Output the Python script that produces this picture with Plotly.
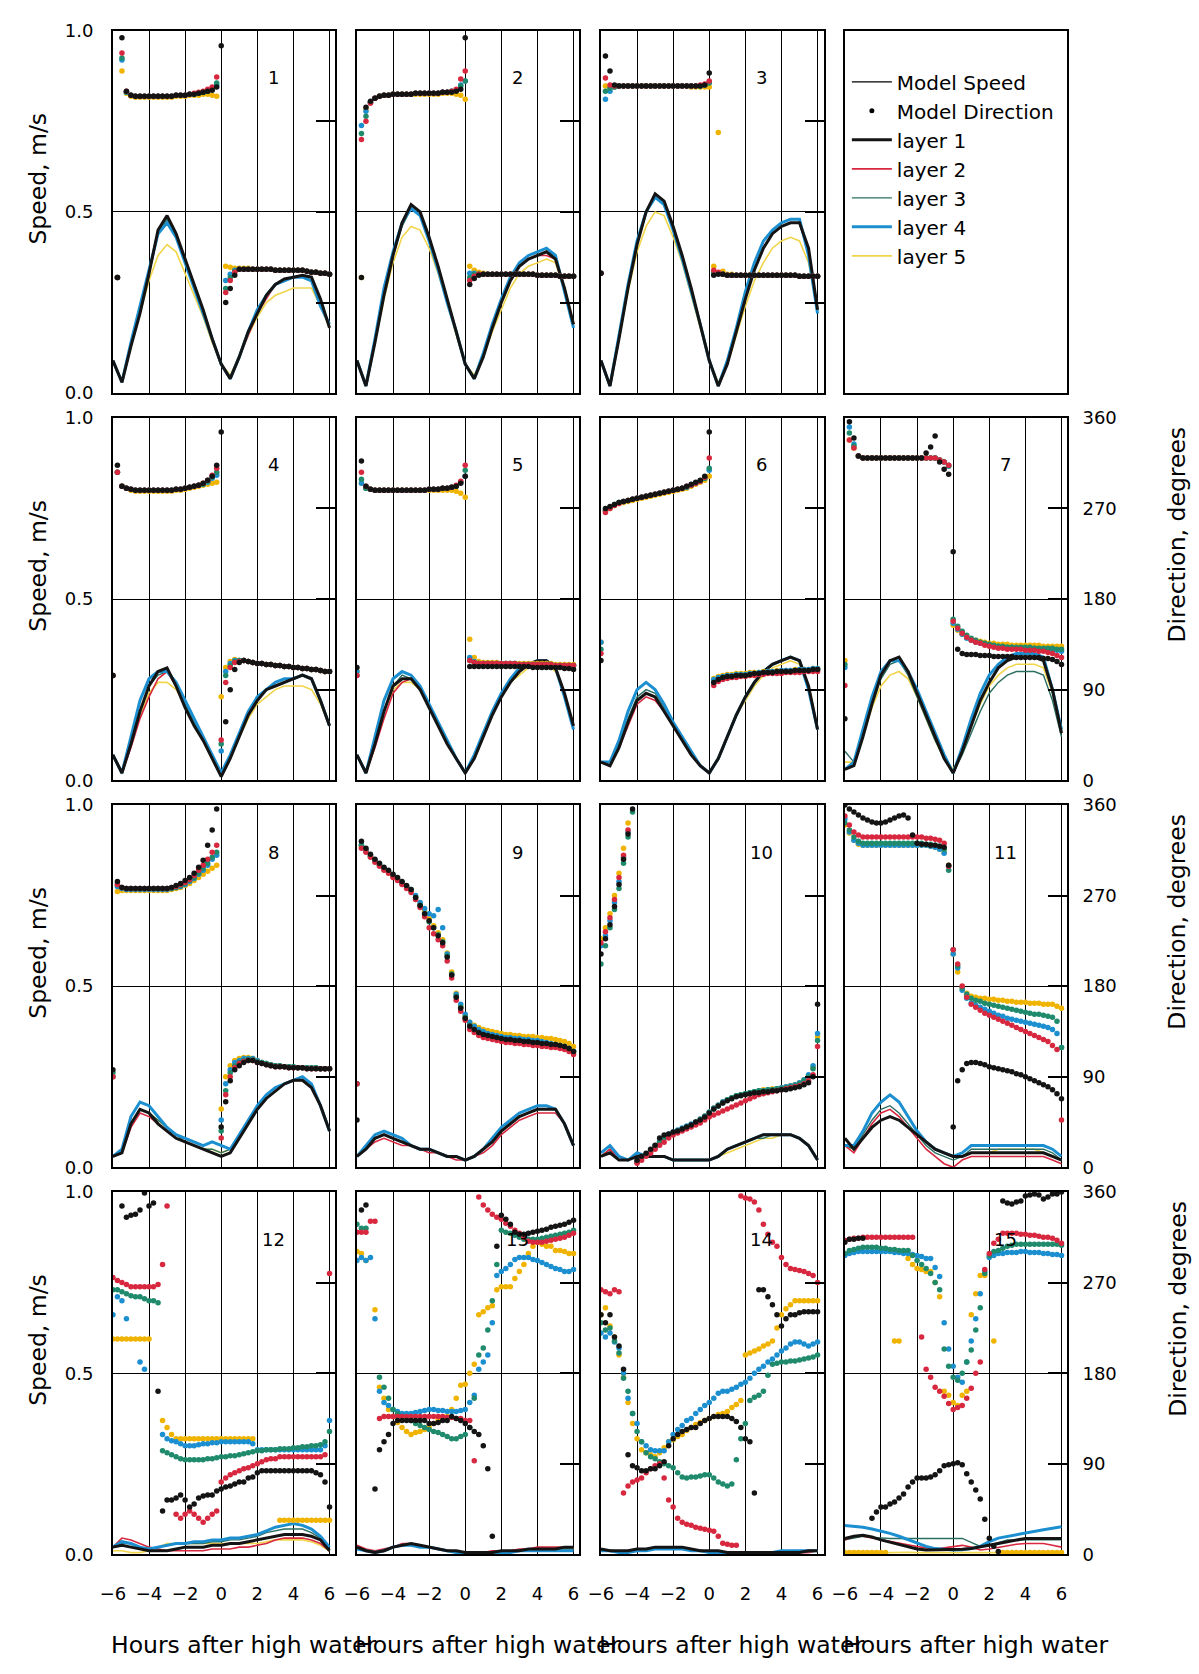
import plotly.graph_objects as go

FONT = "DejaVu Sans"

# ---- time axes (hours after high water) ----
HOURS_SPEED = [-6.0, -5.5, -5.0, -4.5, -4.0, -3.5, -3.0, -2.5, -2.0, -1.5, -1.0, -0.5, 0.0,
               0.5, 1.0, 1.5, 2.0, 2.5, 3.0, 3.5, 4.0, 4.5, 5.0, 5.5, 6.0]
HOURS_DIR = [-6.0, -5.75, -5.5, -5.25, -5.0, -4.75, -4.5, -4.25, -4.0, -3.75, -3.5, -3.25,
             -3.0, -2.75, -2.5, -2.25, -2.0, -1.75, -1.5, -1.25, -1.0, -0.75, -0.5, -0.25,
             0.0, 0.25, 0.5, 0.75, 1.0, 1.25, 1.5, 1.75, 2.0, 2.25, 2.5, 2.75, 3.0, 3.25,
             3.5, 3.75, 4.0, 4.25, 4.5, 4.75, 5.0, 5.25, 5.5, 5.75, 6.0]

HOUR_TICKS = [-6, -4, -2, 0, 2, 4, 6]
SPEED_TICKS = [0.0, 0.5, 1.0]
SPEED_TICK_TEXT = ["0.0", "0.5", "1.0"]
DIR_TICKS = [0, 90, 180, 270, 360]

LAYER_NAMES = ["layer 1", "layer 2", "layer 3", "layer 4", "layer 5"]
LINE_COLORS = ["#141414", "#d8283f", "#2b6f60", "#1c8fd0", "#f1d54a"]
DOT_COLORS = ["#141414", "#d8283f", "#1f8a6c", "#1c8fd0", "#f0b400"]
LINE_WIDTHS = [3.0, 1.6, 1.4, 3.0, 1.6]

# ---- speed (m/s), one row per layer ----
SPEED_01 = [
    [0.09,0.03,0.13,0.22,0.33, 0.45,0.49,0.44,0.37,0.30, 0.23,0.15,0.08,0.04,0.10, 0.17,0.22,0.27,0.30,0.315, 0.32,0.325,0.32,0.26,0.18],
    [0.09,0.03,0.13,0.22,0.33, 0.45,0.49,0.44,0.37,0.30, 0.23,0.15,0.08,0.04,0.10, 0.16,0.22,0.26,0.30,0.31, 0.32,0.32,0.31,0.25,0.18],
    [0.09,0.03,0.13,0.23,0.33, 0.44,0.48,0.43,0.36,0.30, 0.23,0.15,0.08,0.04,0.10, 0.17,0.22,0.27,0.30,0.31, 0.32,0.32,0.31,0.25,0.19],
    [0.09,0.03,0.14,0.24,0.34, 0.44,0.47,0.43,0.36,0.29, 0.22,0.15,0.08,0.04,0.10, 0.17,0.23,0.27,0.30,0.31, 0.32,0.32,0.31,0.24,0.19],
    [0.09,0.03,0.13,0.22,0.31, 0.38,0.41,0.39,0.33,0.27, 0.21,0.14,0.08,0.05,0.10, 0.16,0.21,0.25,0.27,0.28, 0.29,0.29,0.29,0.24,0.18],
]
SPEED_02 = [
    [0.09,0.02,0.14,0.27,0.38, 0.47,0.52,0.50,0.43,0.35, 0.26,0.17,0.08,0.04,0.10, 0.18,0.25,0.31,0.35,0.37, 0.38,0.39,0.37,0.29,0.19],
    [0.09,0.02,0.14,0.27,0.38, 0.47,0.52,0.50,0.43,0.35, 0.26,0.17,0.08,0.04,0.10, 0.18,0.25,0.31,0.35,0.37, 0.38,0.38,0.37,0.29,0.19],
    [0.09,0.02,0.14,0.27,0.38, 0.46,0.51,0.49,0.42,0.34, 0.26,0.17,0.08,0.04,0.10, 0.18,0.25,0.31,0.35,0.37, 0.38,0.39,0.38,0.29,0.19],
    [0.09,0.02,0.15,0.29,0.39, 0.47,0.51,0.49,0.42,0.34, 0.25,0.17,0.08,0.04,0.11, 0.19,0.26,0.32,0.36,0.38, 0.39,0.40,0.38,0.28,0.18],
    [0.09,0.02,0.14,0.26,0.36, 0.43,0.46,0.45,0.40,0.33, 0.25,0.16,0.08,0.05,0.10, 0.17,0.23,0.29,0.33,0.35, 0.36,0.37,0.36,0.28,0.19],
]
SPEED_03 = [
    [0.09,0.02,0.15,0.29,0.41, 0.50,0.55,0.53,0.46,0.38, 0.29,0.19,0.09,0.02,0.08, 0.17,0.26,0.34,0.40,0.44, 0.46,0.47,0.47,0.40,0.23],
    [0.09,0.02,0.15,0.29,0.41, 0.50,0.55,0.53,0.46,0.38, 0.29,0.19,0.09,0.02,0.08, 0.17,0.26,0.34,0.40,0.44, 0.46,0.47,0.47,0.39,0.23],
    [0.09,0.02,0.15,0.29,0.41, 0.50,0.54,0.52,0.45,0.37, 0.28,0.19,0.09,0.02,0.08, 0.17,0.26,0.34,0.40,0.44, 0.46,0.47,0.47,0.39,0.23],
    [0.09,0.02,0.16,0.30,0.42, 0.50,0.54,0.52,0.45,0.37, 0.28,0.19,0.09,0.02,0.09, 0.18,0.28,0.36,0.42,0.45, 0.47,0.48,0.48,0.38,0.22],
    [0.09,0.02,0.15,0.28,0.39, 0.46,0.50,0.49,0.43,0.36, 0.27,0.18,0.09,0.03,0.08, 0.16,0.24,0.31,0.36,0.40, 0.42,0.43,0.42,0.36,0.23],
]
SPEED_04 = [
    [0.07,0.02,0.10,0.19,0.26, 0.30,0.31,0.26,0.20,0.15, 0.11,0.06,0.01,0.06,0.12, 0.18,0.22,0.25,0.26,0.27, 0.28,0.29,0.28,0.22,0.15],
    [0.07,0.02,0.09,0.17,0.23, 0.28,0.30,0.26,0.20,0.15, 0.11,0.06,0.01,0.06,0.12, 0.18,0.22,0.25,0.26,0.27, 0.28,0.29,0.28,0.22,0.15],
    [0.07,0.02,0.10,0.19,0.26, 0.29,0.30,0.26,0.21,0.16, 0.11,0.06,0.02,0.07,0.13, 0.18,0.22,0.25,0.26,0.27, 0.28,0.29,0.28,0.22,0.15],
    [0.07,0.02,0.12,0.22,0.28, 0.30,0.30,0.27,0.22,0.17, 0.12,0.07,0.02,0.07,0.13, 0.19,0.23,0.25,0.27,0.28, 0.28,0.29,0.28,0.22,0.15],
    [0.07,0.02,0.10,0.18,0.24, 0.27,0.27,0.25,0.21,0.16, 0.11,0.06,0.02,0.07,0.12, 0.17,0.21,0.23,0.25,0.26, 0.26,0.26,0.25,0.21,0.15],
]
SPEED_05 = [
    [0.07,0.02,0.10,0.19,0.26, 0.28,0.28,0.25,0.20,0.15, 0.10,0.06,0.02,0.06,0.12, 0.18,0.23,0.27,0.30,0.32, 0.33,0.33,0.31,0.24,0.15],
    [0.07,0.02,0.09,0.17,0.24, 0.27,0.28,0.25,0.20,0.15, 0.10,0.06,0.02,0.06,0.12, 0.18,0.23,0.27,0.30,0.32, 0.33,0.33,0.31,0.24,0.15],
    [0.07,0.02,0.10,0.19,0.26, 0.29,0.28,0.25,0.20,0.15, 0.10,0.06,0.02,0.06,0.12, 0.18,0.23,0.27,0.30,0.32, 0.33,0.33,0.31,0.24,0.15],
    [0.07,0.02,0.12,0.22,0.28, 0.30,0.29,0.26,0.21,0.16, 0.11,0.06,0.02,0.07,0.13, 0.19,0.24,0.28,0.31,0.32, 0.33,0.33,0.31,0.23,0.14],
    [0.07,0.02,0.10,0.19,0.25, 0.27,0.27,0.25,0.20,0.15, 0.10,0.06,0.02,0.06,0.12, 0.18,0.23,0.27,0.29,0.31, 0.32,0.32,0.30,0.24,0.15],
]
SPEED_06 = [
    [0.05,0.04,0.09,0.16,0.22, 0.24,0.23,0.19,0.15,0.11, 0.07,0.04,0.02,0.06,0.12, 0.18,0.23,0.27,0.30,0.32, 0.33,0.34,0.33,0.26,0.14],
    [0.05,0.04,0.09,0.15,0.21, 0.23,0.22,0.19,0.15,0.11, 0.07,0.04,0.02,0.06,0.12, 0.18,0.23,0.27,0.30,0.32, 0.33,0.34,0.33,0.26,0.14],
    [0.05,0.04,0.10,0.17,0.23, 0.25,0.24,0.20,0.16,0.11, 0.07,0.04,0.02,0.06,0.12, 0.18,0.23,0.27,0.30,0.32, 0.33,0.34,0.33,0.26,0.14],
    [0.05,0.05,0.11,0.19,0.25, 0.27,0.25,0.21,0.16,0.12, 0.08,0.04,0.02,0.06,0.12, 0.18,0.23,0.27,0.30,0.32, 0.33,0.34,0.33,0.25,0.14],
    [0.05,0.04,0.09,0.16,0.22, 0.24,0.23,0.19,0.15,0.11, 0.07,0.04,0.02,0.06,0.12, 0.18,0.22,0.26,0.29,0.31, 0.32,0.33,0.32,0.26,0.14],
]
SPEED_07 = [
    [0.03,0.04,0.12,0.21,0.29, 0.33,0.34,0.30,0.24,0.18, 0.12,0.06,0.02,0.08,0.15, 0.22,0.27,0.31,0.33,0.34, 0.34,0.34,0.33,0.25,0.13],
    [0.03,0.04,0.12,0.21,0.29, 0.33,0.34,0.30,0.24,0.18, 0.12,0.06,0.02,0.08,0.15, 0.22,0.27,0.31,0.33,0.34, 0.34,0.34,0.33,0.25,0.13],
    [0.08,0.05,0.12,0.21,0.28, 0.32,0.33,0.29,0.23,0.17, 0.11,0.06,0.02,0.07,0.13, 0.19,0.24,0.27,0.29,0.30, 0.30,0.30,0.29,0.22,0.12],
    [0.03,0.05,0.14,0.23,0.30, 0.33,0.33,0.30,0.25,0.19, 0.13,0.07,0.02,0.09,0.17, 0.24,0.29,0.32,0.34,0.35, 0.35,0.35,0.34,0.25,0.14],
    [0.05,0.05,0.12,0.20,0.26, 0.29,0.30,0.28,0.23,0.17, 0.11,0.06,0.03,0.08,0.15, 0.21,0.26,0.29,0.31,0.32, 0.32,0.32,0.31,0.24,0.13],
]
SPEED_08 = [
    [0.03,0.04,0.12,0.16,0.15, 0.12,0.10,0.08,0.07,0.06, 0.05,0.04,0.03,0.04,0.08, 0.12,0.16,0.19,0.21,0.23, 0.24,0.24,0.22,0.17,0.10],
    [0.03,0.04,0.11,0.15,0.14, 0.12,0.10,0.08,0.07,0.06, 0.05,0.04,0.03,0.04,0.08, 0.12,0.16,0.19,0.21,0.23, 0.24,0.24,0.22,0.17,0.10],
    [0.03,0.04,0.12,0.16,0.15, 0.13,0.11,0.09,0.07,0.06, 0.05,0.05,0.04,0.05,0.09, 0.13,0.16,0.19,0.21,0.23, 0.24,0.24,0.22,0.17,0.10],
    [0.03,0.05,0.14,0.18,0.17, 0.14,0.11,0.09,0.08,0.07, 0.06,0.07,0.06,0.05,0.09, 0.13,0.17,0.20,0.22,0.23, 0.24,0.25,0.23,0.17,0.10],
    [0.03,0.04,0.12,0.16,0.15, 0.13,0.11,0.09,0.07,0.06, 0.05,0.05,0.04,0.05,0.09, 0.13,0.16,0.19,0.21,0.23, 0.24,0.24,0.22,0.17,0.10],
]
SPEED_09 = [
    [0.03,0.05,0.08,0.09,0.08, 0.07,0.06,0.05,0.05,0.04, 0.03,0.03,0.02,0.03,0.05, 0.07,0.10,0.12,0.14,0.15, 0.16,0.16,0.16,0.12,0.06],
    [0.03,0.05,0.07,0.08,0.07, 0.06,0.06,0.05,0.04,0.04, 0.03,0.02,0.02,0.03,0.04, 0.06,0.09,0.11,0.13,0.14, 0.15,0.15,0.15,0.12,0.06],
    [0.03,0.05,0.08,0.09,0.08, 0.07,0.06,0.05,0.05,0.04, 0.03,0.03,0.02,0.03,0.05, 0.07,0.10,0.12,0.14,0.15, 0.16,0.16,0.16,0.12,0.06],
    [0.03,0.06,0.09,0.10,0.09, 0.08,0.06,0.05,0.05,0.04, 0.03,0.03,0.02,0.03,0.05, 0.08,0.11,0.13,0.15,0.16, 0.17,0.17,0.16,0.12,0.06],
    [0.03,0.05,0.08,0.09,0.08, 0.07,0.06,0.05,0.05,0.04, 0.03,0.03,0.02,0.03,0.05, 0.07,0.10,0.12,0.14,0.15, 0.16,0.16,0.16,0.12,0.06],
]
SPEED_10 = [
    [0.03,0.04,0.02,0.02,0.03, 0.03,0.03,0.03,0.02,0.02, 0.02,0.02,0.02,0.03,0.05, 0.06,0.07,0.08,0.09,0.09, 0.09,0.09,0.08,0.06,0.02],
    [0.03,0.05,0.02,0.02,0.03, 0.03,0.03,0.03,0.02,0.02, 0.02,0.02,0.02,0.03,0.05, 0.06,0.07,0.08,0.09,0.09, 0.09,0.09,0.08,0.06,0.02],
    [0.03,0.05,0.02,0.02,0.03, 0.03,0.03,0.03,0.02,0.02, 0.02,0.02,0.02,0.03,0.05, 0.06,0.07,0.08,0.08,0.09, 0.09,0.09,0.08,0.06,0.02],
    [0.04,0.06,0.03,0.02,0.04, 0.03,0.03,0.03,0.02,0.02, 0.02,0.02,0.02,0.03,0.05, 0.06,0.07,0.08,0.09,0.09, 0.09,0.09,0.08,0.06,0.02],
    [0.04,0.06,0.03,0.02,0.04, 0.03,0.03,0.03,0.02,0.02, 0.02,0.02,0.02,0.03,0.04, 0.05,0.06,0.07,0.08,0.08, 0.09,0.09,0.08,0.06,0.02],
]
SPEED_11 = [
    [0.08,0.05,0.08,0.11,0.13, 0.14,0.13,0.11,0.09,0.07, 0.05,0.04,0.03,0.03,0.04, 0.04,0.04,0.04,0.04,0.04, 0.04,0.04,0.04,0.03,0.02],
    [0.06,0.04,0.08,0.12,0.15, 0.16,0.14,0.11,0.08,0.05, 0.03,0.01,0.00,0.02,0.03, 0.03,0.03,0.03,0.03,0.03, 0.03,0.03,0.03,0.02,0.01],
    [0.06,0.05,0.09,0.13,0.16, 0.17,0.15,0.12,0.09,0.06, 0.04,0.03,0.02,0.03,0.05, 0.05,0.05,0.05,0.05,0.05, 0.05,0.05,0.05,0.04,0.02],
    [0.06,0.06,0.10,0.15,0.18, 0.20,0.18,0.14,0.10,0.07, 0.05,0.04,0.03,0.04,0.06, 0.06,0.06,0.06,0.06,0.06, 0.06,0.06,0.06,0.05,0.03],
    [0.06,0.05,0.08,0.11,0.13, 0.14,0.13,0.11,0.09,0.07, 0.05,0.04,0.03,0.03,0.04, 0.04,0.04,0.05,0.05,0.05, 0.05,0.05,0.04,0.03,0.02],
]
SPEED_12 = [
    [0.02,0.025,0.02,0.015,0.01, 0.01,0.01,0.015,0.02,0.02, 0.02,0.025,0.025,0.03,0.03, 0.035,0.04,0.045,0.05,0.055, 0.055,0.055,0.05,0.04,0.01],
    [0.02,0.045,0.04,0.03,0.02, 0.015,0.01,0.01,0.01,0.01, 0.01,0.015,0.015,0.015,0.02, 0.02,0.025,0.03,0.04,0.045, 0.045,0.045,0.04,0.03,0.01],
    [0.02,0.03,0.03,0.02,0.015, 0.02,0.025,0.03,0.03,0.03, 0.03,0.035,0.035,0.04,0.04, 0.045,0.05,0.06,0.065,0.07, 0.07,0.07,0.06,0.045,0.01],
    [0.02,0.035,0.03,0.02,0.015, 0.02,0.025,0.03,0.03,0.035, 0.035,0.04,0.04,0.045,0.045, 0.05,0.055,0.065,0.075,0.08, 0.085,0.08,0.07,0.05,0.02],
    [0.01,0.01,0.005,0.005,0.01, 0.02,0.03,0.03,0.03,0.03, 0.03,0.03,0.03,0.03,0.03, 0.03,0.03,0.035,0.04,0.04, 0.04,0.04,0.035,0.025,0.01],
]
SPEED_13 = [
    [0.02,0.01,0.005,0.01,0.02, 0.025,0.03,0.025,0.02,0.015, 0.01,0.01,0.005,0.005,0.005, 0.005,0.01,0.01,0.01,0.015, 0.015,0.015,0.015,0.02,0.02],
    [0.025,0.015,0.01,0.015,0.02, 0.03,0.03,0.025,0.02,0.015, 0.01,0.01,0.005,0.005,0.005, 0.01,0.01,0.01,0.015,0.015, 0.02,0.02,0.02,0.02,0.02],
    [0.02,0.01,0.005,0.01,0.02, 0.025,0.03,0.025,0.02,0.015, 0.01,0.01,0.005,0.005,0.005, 0.005,0.01,0.01,0.01,0.01, 0.01,0.015,0.015,0.015,0.015],
    [0.015,0.01,0.005,0.01,0.02, 0.025,0.025,0.02,0.02,0.015, 0.01,0.005,0.005,0.005,0.005, 0.005,0.005,0.005,0.01,0.01, 0.01,0.01,0.01,0.01,0.01],
    [0.02,0.01,0.005,0.01,0.02, 0.025,0.03,0.025,0.02,0.015, 0.01,0.01,0.005,0.005,0.005, 0.005,0.01,0.01,0.01,0.01, 0.01,0.015,0.015,0.015,0.015],
]
SPEED_14 = [
    [0.015,0.01,0.01,0.01,0.015, 0.015,0.02,0.02,0.02,0.02, 0.015,0.01,0.01,0.01,0.005, 0.005,0.005,0.005,0.005,0.005, 0.005,0.005,0.005,0.01,0.01],
    [0.015,0.01,0.01,0.01,0.015, 0.015,0.015,0.02,0.02,0.015, 0.015,0.01,0.01,0.005,0.005, 0.005,0.005,0.005,0.005,0.005, 0.005,0.005,0.005,0.005,0.01],
    [0.015,0.01,0.01,0.01,0.015, 0.015,0.02,0.02,0.02,0.02, 0.015,0.01,0.01,0.01,0.005, 0.005,0.005,0.005,0.005,0.005, 0.005,0.005,0.005,0.01,0.01],
    [0.01,0.01,0.005,0.005,0.01, 0.01,0.015,0.015,0.015,0.015, 0.01,0.01,0.005,0.005,0.005, 0.005,0.005,0.005,0.005,0.005, 0.01,0.01,0.01,0.01,0.01],
    [0.01,0.01,0.005,0.005,0.01, 0.01,0.015,0.015,0.015,0.015, 0.01,0.01,0.005,0.005,0.005, 0.005,0.005,0.005,0.005,0.005, 0.01,0.01,0.01,0.01,0.01],
]
SPEED_15 = [
    [0.044,0.05,0.053,0.048,0.04, 0.034,0.027,0.02,0.015,0.012, 0.012,0.012,0.012,0.014,0.016, 0.02,0.025,0.03,0.035,0.04, 0.044,0.044,0.044,0.044,0.044],
    [0.04,0.05,0.05,0.045,0.04, 0.035,0.03,0.026,0.022,0.018, 0.015,0.018,0.022,0.025,0.02, 0.012,0.015,0.02,0.025,0.028, 0.03,0.03,0.03,0.025,0.02],
    [0.04,0.045,0.05,0.047,0.045, 0.044,0.044,0.044,0.044,0.044, 0.044,0.044,0.044,0.044,0.033, 0.022,0.025,0.033,0.04,0.04, 0.04,0.04,0.04,0.04,0.04],
    [0.08,0.078,0.075,0.07,0.065, 0.058,0.05,0.04,0.03,0.022, 0.016,0.013,0.012,0.013,0.016, 0.022,0.035,0.045,0.05,0.055, 0.06,0.064,0.068,0.072,0.076],
    [0.006,0.005,0.005,0.004,0.004, 0.005,0.006,0.006,0.005,0.005, 0.004,0.004,0.005,0.005,0.006, 0.006,0.005,0.005,0.004,0.004, 0.005,0.005,0.006,0.006,0.005],
]

# ---- direction (degrees), one row per layer ----
DIR_01 = [
    [None,115,353,300, 296,295,295,295, 295,295,295,295, 295,295,296,296, 296,297,297,298, 299,300,301,304, 345,90,104,117, 123,123,123,123, 123,123,123,123, 122,122,122,122, 122,122,122,121, 120,120,119,119, 118],
    [None,115,338,300, 296,295,295,295, 295,295,295,295, 295,295,296,296, 296,297,298,299, 300,302,304,314, None,100,112,120, 123,123,123,123, 123,123,123,123, 122,122,122,122, 122,122,122,121, 120,120,119,119, 118],
    [None,115,333,299, 296,295,295,295, 295,295,295,295, 295,295,296,296, 296,297,297,298, 299,300,302,308, None,104,115,121, 123,123,123,123, 123,123,123,123, 122,122,122,122, 122,122,122,121, 120,120,119,119, 118],
    [None,115,331,299, 296,295,295,295, 295,295,295,295, 295,295,296,296, 296,297,297,298, 299,300,302,306, None,112,118,122, 123,123,123,123, 123,123,123,123, 122,122,122,122, 122,122,122,121, 120,120,119,119, 118],
    [None,115,320,298, 295,294,294,294, 294,294,294,294, 294,294,295,295, 295,296,296,296, 297,297,296,295, None,126,125,124, 124,124,124,123, 123,123,123,123, 122,122,122,122, 122,122,122,121, 120,120,119,119, 118],
]
DIR_02 = [
    [None,115,284,290, 293,295,296,296, 297,297,297,297, 297,298,298,298, 298,298,298,299, 299,299,300,302, 353,108,114,117, 118,118,118,118, 118,118,118,118, 118,118,118,118, 117,117,117,117, 117,116,116,116, 116],
    [None,252,270,288, 293,295,296,296, 297,297,297,297, 297,298,298,298, 298,298,298,299, 299,300,302,312, 320,112,116,118, 118,118,118,118, 118,118,118,118, 118,118,118,118, 117,117,117,117, 117,116,116,116, 116],
    [None,258,275,289, 293,295,296,296, 297,297,297,297, 297,298,298,298, 298,298,298,299, 299,300,301,305, 310,115,118,118, 118,118,118,118, 118,118,118,118, 118,118,118,118, 117,117,117,117, 117,116,116,116, 116],
    [None,266,280,289, 293,295,296,296, 297,297,297,297, 297,298,298,298, 298,298,298,299, 299,300,301,306, 310,119,119,118, 118,118,118,118, 118,118,118,118, 118,118,118,118, 117,117,117,117, 117,116,116,116, 116],
    [None,115,282,289, 293,295,296,296, 297,297,297,297, 297,297,297,297, 297,297,297,298, 298,298,297,296, 292,126,122,120, 119,118,118,118, 118,118,118,118, 118,118,118,118, 117,117,117,117, 117,116,116,116, 116],
]
DIR_03 = [
    [119,335,320,306, 305,305,305,305, 305,305,305,305, 305,305,305,305, 305,305,305,305, 305,305,305,306, 318,117,118,118, 117,117,117,117, 117,117,117,117, 117,117,117,117, 117,117,117,117, 116,116,116,116, 116],
    [119,313,306,305, 305,305,305,305, 305,305,305,305, 305,305,305,305, 305,305,305,305, 305,305,306,307, 310,122,120,118, 117,117,117,117, 117,117,117,117, 117,117,117,117, 117,117,117,117, 116,116,116,116, 116],
    [119,300,303,304, 305,305,305,305, 305,305,305,305, 305,305,305,305, 305,305,305,305, 305,305,305,306, 308,120,119,118, 117,117,117,117, 117,117,117,117, 117,117,117,117, 117,117,117,117, 116,116,116,116, 116],
    [119,292,300,304, 305,305,305,305, 305,305,305,305, 305,305,305,305, 305,305,305,305, 305,305,305,306, 309,119,119,118, 117,117,117,117, 117,117,117,117, 117,117,117,117, 117,117,117,117, 116,116,116,116, 116],
    [119,305,304,304, 305,305,305,305, 305,305,305,305, 305,305,305,305, 305,305,305,305, 304,304,304,304, 304,126,259,121, 118,118,117,117, 117,117,117,117, 117,117,117,117, 117,117,117,117, 116,116,116,116, 116],
]
DIR_04 = [
    [104,313,292,290, 289,288,288,288, 288,288,288,288, 288,288,289,289, 290,291,292,293, 295,298,302,313, 346,58,90,110, 117,119,118,117, 116,116,115,115, 114,114,113,113, 112,112,111,111, 110,110,109,108, 108],
    [104,306,292,290, 289,288,288,288, 288,288,288,288, 288,288,289,289, 290,291,292,293, 295,298,303,310, 40,97,112,117, 118,119,118,117, 116,116,115,115, 114,114,113,113, 112,112,111,111, 110,110,109,108, 108],
    [104,306,292,290, 289,288,288,288, 288,288,288,288, 288,288,289,289, 290,291,292,293, 294,297,301,306, 36,104,114,118, 119,119,118,117, 116,116,115,115, 114,114,113,113, 112,112,111,111, 110,110,109,108, 108],
    [104,306,292,290, 289,288,288,288, 288,288,288,288, 288,288,289,289, 290,291,292,293, 294,296,300,303, 29,108,116,119, 119,119,118,117, 116,116,115,115, 114,114,113,113, 112,112,111,111, 110,110,109,108, 108],
    [104,306,292,290, 288,287,287,287, 287,287,287,287, 287,287,288,288, 289,290,291,292, 293,294,295,296, 83,112,118,120, 119,119,118,117, 116,116,115,115, 114,114,113,113, 112,112,111,111, 110,110,109,108, 108],
]
DIR_05 = [
    [112,317,292,289, 288,288,288,288, 288,288,288,288, 288,288,288,288, 289,289,289,290, 290,291,292,295, 302,113,113,113, 113,113,113,113, 113,113,113,113, 113,113,113,112, 112,112,112,112, 112,112,111,111, 110],
    [104,306,292,289, 288,288,288,288, 288,288,288,288, 288,288,288,288, 289,289,289,290, 290,291,293,297, 313,119,117,116, 116,116,116,116, 116,116,116,116, 115,115,115,115, 115,115,115,115, 114,114,114,114, 114],
    [104,299,290,289, 288,288,288,288, 288,288,288,288, 288,288,288,288, 289,289,289,290, 290,291,292,296, 308,119,117,116, 116,116,116,116, 116,116,116,116, 115,115,115,115, 115,115,115,115, 114,114,114,114, 114],
    [108,295,290,289, 288,288,288,288, 288,288,288,288, 288,288,288,288, 289,289,289,290, 290,291,292,296, 302,122,118,116, 116,116,116,116, 116,116,116,116, 115,115,115,115, 115,115,115,115, 114,114,114,114, 114],
    [108,295,290,289, 288,288,288,288, 288,288,288,288, 288,288,288,288, 288,288,288,288, 288,288,287,285, 281,140,122,118, 117,117,117,117, 116,116,116,116, 116,116,116,116, 116,116,116,116, 115,115,115,115, 115],
]
DIR_06 = [
    [119,270,272,274, 276,277,278,279, 280,281,282,283, 284,285,286,287, 288,289,290,292, 294,296,298,302, 346,97,100,102, 103,103,104,104, 104,105,106,106, 107,107,107,108, 108,108,108,109, 109,109,109,110, 110],
    [126,266,270,273, 275,277,278,279, 280,281,282,283, 284,285,286,287, 288,289,290,292, 293,295,297,301, 320,94,98,100, 101,102,102,103, 103,104,104,105, 105,106,106,106, 106,107,107,107, 107,108,108,108, 108],
    [130,268,271,274, 276,277,278,279, 280,281,282,283, 284,285,286,287, 288,289,290,291, 293,295,297,300, 310,97,100,102, 103,103,104,104, 104,105,106,106, 107,107,107,108, 108,108,108,109, 109,109,109,110, 110],
    [137,268,271,274, 276,277,278,279, 280,281,282,283, 284,285,286,287, 288,289,290,291, 293,295,297,300, 308,100,102,103, 104,104,105,105, 105,106,106,107, 107,108,108,108, 109,109,109,109, 110,110,110,111, 111],
    [137,268,270,273, 275,276,277,278, 279,280,281,282, 283,284,285,286, 287,288,289,290, 292,294,296,298, 302,101,103,104, 105,105,106,106, 106,107,107,107, 108,108,108,109, 109,109,109,110, 110,110,110,111, 111],
]
DIR_07 = [
    [61,356,340,322, 320,320,320,320, 320,320,320,320, 320,320,320,320, 320,320,325,331, 342,316,309,304, 227,130,126,125, 125,125,124,124, 124,123,123,123, 123,123,122,122, 122,122,122,122, 121,121,120,118, 115],
    [94,338,330,322, 320,320,320,320, 320,320,320,320, 320,320,320,320, 320,320,320,320, 320,318,316,313, 158,151,146,142, 139,137,136,134, 133,132,131,131, 130,130,130,130, 129,129,129,128, 128,127,126,124, 122],
    [115,345,332,322, 320,320,320,320, 320,320,320,320, 320,320,320,320, 320,320,320,320, 320,318,316,313, 160,153,148,144, 141,139,137,136, 135,134,133,133, 132,132,132,132, 132,132,131,131, 131,131,131,130, 130],
    [112,351,334,322, 320,320,320,320, 320,320,320,320, 320,320,320,320, 320,320,320,320, 320,318,316,312, 156,150,145,141, 139,137,136,135, 134,133,133,132, 132,132,131,131, 131,131,131,130, 130,130,129,129, 128],
    [119,338,330,322, 320,320,320,320, 320,320,320,320, 320,320,320,320, 320,320,320,320, 320,318,316,312, 154,149,145,142, 140,139,138,137, 136,136,135,135, 135,134,134,134, 134,134,134,134, 133,133,133,133, 133],
]
DIR_08 = [
    [97,284,278,277, 277,277,277,277, 277,277,277,277, 277,278,280,282, 285,288,292,298, 305,320,335,356, 40,65,86,97, 101,104,106,106, 104,103,102,101, 100,100,100,99, 99,99,99,98, 98,98,98,98, 98],
    [90,281,278,277, 277,277,277,277, 277,277,277,277, 277,278,279,281, 283,286,290,295, 300,306,313,320, 29,72,90,99, 103,105,106,106, 104,103,102,101, 100,100,100,99, 99,99,99,98, 98,98,98,98, 98],
    [94,281,278,277, 277,277,277,277, 277,277,277,277, 277,277,278,280, 282,285,288,292, 297,302,308,313, 36,76,94,101, 104,106,107,107, 105,104,103,102, 101,101,100,100, 100,99,99,99, 99,99,98,98, 98],
    [90,279,277,276, 276,276,276,276, 276,276,276,276, 276,277,278,279, 281,284,287,291, 295,300,306,310, 47,83,97,104, 106,108,108,108, 106,104,103,102, 101,101,100,100, 100,99,99,99, 99,99,98,98, 98],
    [90,274,275,275, 275,275,275,275, 275,275,275,275, 275,276,277,278, 280,282,285,288, 291,294,297,300, 58,90,101,106, 108,109,109,108, 106,104,103,102, 101,101,100,100, 100,99,99,99, 99,99,98,98, 98],
]
DIR_09 = [
    [47,324,317,311, 306,302,298,295, 291,288,284,280, 276,268,260,252, 245,238,230,223, 209,191,169,158, 148,140,137,134, 132,131,130,129, 128,127,127,126, 126,125,125,124, 124,123,123,122, 122,121,120,118, 115],
    [83,317,313,308, 303,299,295,292, 288,285,281,277, 273,266,258,249, 238,232,226,220, 205,188,166,155, 146,137,134,131, 129,128,127,126, 125,124,124,123, 123,122,122,121, 121,120,120,119, 119,118,117,115, 112],
    [83,320,314,309, 304,300,296,293, 290,286,282,279, 275,268,260,252, 244,238,231,224, 210,192,170,159, 149,141,137,134, 132,131,130,129, 128,127,127,126, 126,125,125,124, 124,123,123,122, 122,121,120,118, 115],
    [83,320,315,310, 305,301,297,294, 290,286,283,279, 276,270,263,257, 252,250,256,238, 212,191,172,162, 152,144,140,137, 135,133,132,131, 130,129,129,128, 128,127,127,126, 126,125,124,123, 122,121,120,118, 115],
    [83,318,314,309, 304,300,296,293, 289,286,282,279, 275,268,261,254, 247,240,233,226, 213,194,173,160, 150,144,141,139, 137,136,135,134, 133,132,132,131, 131,130,130,130, 129,129,128,128, 127,126,125,123, 120],
]
DIR_10 = [
    [212,227,241,259, 281,306,331,356, 7,11,14,18, 22,29,32,33, 35,36,38,40, 42,45,47,50, 54,58,61,64, 66,68,70,71, 72,73,74,74, 75,75,76,76, 77,77,78,79, 80,82,84,90, 162],
    [223,234,248,266, 288,310,335,None, 4,7,11,14, 18,22,25,29, 32,34,36,38, 40,42,44,47, 50,52,54,56, 58,60,62,64, 66,68,70,72, 73,74,75,76, 77,78,79,80, 81,83,86,92, 120],
    [202,220,238,256, 277,302,328,353, 5,9,13,16, 20,25,29,32, 34,36,38,40, 42,44,47,50, 54,58,61,64, 67,69,71,72, 73,74,75,76, 76,77,77,78, 78,79,80,81, 83,86,90,98, 126],
    [220,230,245,263, 284,308,333,None, 6,10,13,17, 21,26,30,33, 35,37,39,41, 43,45,48,51, 55,59,62,65, 67,69,71,72, 73,74,75,76, 76,77,77,78, 79,80,81,82, 84,87,92,101, 133],
    [227,238,252,270, 292,317,342,None, 5,9,12,16, 20,25,29,32, 34,36,38,40, 42,45,48,51, 55,59,62,65, 67,69,71,72, 73,74,75,76, 77,77,78,78, 79,80,81,82, 84,87,91,99, 130],
]
DIR_11 = [
    [360,356,353,350, 347,345,343,342, 342,343,345,347, 349,350,347,330, 322,321,321,320, 320,319,318,300, 40,86,97,103, 104,104,103,102, 100,99,98,97, 96,95,93,92, 90,88,86,84, 82,80,77,73, 68],
    [349,340,333,330, 328,328,328,328, 328,328,328,328, 328,328,328,328, 328,328,327,327, 326,325,322,299, 216,202,180,169, 162,159,156,153, 151,149,147,145, 143,141,139,137, 135,133,131,129, 127,125,121,117, 47],
    [342,335,328,324, 322,322,322,322, 322,322,322,322, 322,322,322,322, 322,322,321,321, 320,319,316,295, 216,200,178,172, 168,166,165,163, 162,161,160,159, 158,157,156,155, 154,153,152,152, 151,150,149,145, 119],
    [346,333,325,322, 320,320,320,320, 320,320,320,320, 320,320,320,320, 320,320,320,319, 318,316,312,299, 212,198,176,168, 163,161,159,157, 155,153,151,150, 148,147,146,145, 144,143,142,141, 140,139,137,133, 119],
    [340,332,325,321, 320,320,320,320, 320,320,320,320, 320,320,320,320, 320,320,320,319, 318,316,313,300, 212,194,178,173, 170,169,168,168, 167,167,166,166, 165,165,164,164, 164,163,163,163, 162,162,162,160, 158],
]
DIR_12 = [
    [None,None,346,335, 337,338,342,359, 346,349,162,43, 54,54,56,59, 54,47,50,56, 58,59,59,63, 65,67,68,70, 72,72,76,77, 81,83,83,83, 83,83,83,83, 83,83,83,83, 83,81,79,72, 47],
    [275,272,270,268, 266,266,266,266, 266,266,268,288, 346,None,40,36, 40,43,40,36, 32,36,40,43, 72,76,79,81, 83,85,86,88, 90,92,94,95, 95,97,97,97, 97,97,97,97, 97,97,97,99, 279],
    [263,263,261,259, 257,256,256,254, 252,252,250,103, 101,99,97,95, 94,94,94,94, 94,95,95,96, 97,97,98,98, 99,100,101,102, 103,103,104,104, 104,105,105,105, 106,106,107,107, 108,108,109,112, 122],
    [238,256,252,234, None,None,191,184, None,None,None,119, 115,113,112,110, 108,108,108,109, 110,110,111,111, 112,112,112,112, 112,112,112,110, 104,104,104,104, 104,104,104,104, 104,104,104,104, 104,104,104,108, 133],
    [214,214,214,214, 214,214,214,214, 214,None,None,133, 126,119,115,115, 115,115,115,115, 115,115,115,115, 115,115,115,115, 115,115,115,115, None,None,None,None, None,34,34,34, 34,34,34,34, 34,34,34,34, 34],
]
DIR_13 = [
    [None,342,347,None, 65,104,112,119, 130,133,133,133, 133,133,133,133, 130,130,131,133, 133,137,135,133, 130,126,122,119, 108,85,18,306, 337,333,328,320, 318,318,319,320, 321,322,323,325, 326,327,328,330, 332],
    [320,320,320,331, 331,135,137,137, 137,137,137,137, 137,137,137,137, 137,137,137,137, 136,136,135,135, 133,133,93,355, 347,342,338,335, 333,329,326,322, 319,315,311,310, 310,310,311,312, 313,314,315,317, 319],
    [328,324,324,None, None,176,166,155, 144,140,137,135, 133,130,128,126, 124,122,121,119, 117,115,115,117, 119,126,155,198, 205,223,252,288, 322,320,319,317, 315,313,313,313, 313,314,315,316, 317,318,319,320, 322],
    [292,295,292,295, 234,162,151,148, 144,142,140,140, 140,141,142,143, 144,144,143,143, 142,142,142,143, 144,151,158,184, 191,198,230,277, 281,284,288,293, 295,295,295,293, 292,290,288,286, 284,283,281,281, 283],
    [301,299,292,None, 243,166,155,144, 137,131,126,122, 119,121,122,124, 126,130,133,135, 137,144,155,168, 169,180,189,238, 241,245,247,263, 266,266,266,274, 281,288,299,306, 310,308,306,306, 302,302,301,299, 299],
]
DIR_14 = [
    [238,230,238,216, 207,184,99,88, 86,83,83,85, 85,88,92,108, 115,119,122,124, 126,126,130,133, 135,137,137,137, 137,135,132,126, 115,112,61,263, 263,256,248,238, 227,234,238,238, 240,241,241,241, 241],
    [263,261,259,263, 261,61,68,72, 74,76,81,85, 88,90,76,54, 47,36,32,30, 29,27,26,25, 24,23,18,11, 10,9,9,356, 354,353,350,342, 328,318,310,306, 295,288,284,283, 282,281,279,277, 270],
    [230,223,225,212, 200,175,162,140, 122,112,101,97, 95,92,90,88, 86,81,77,76, 77,77,78,79, 79,76,72,70, 68,70,94,115, 130,153,156,158, 162,178,189,190, 191,191,192,192, 193,194,195,196, 198],
    [220,216,220,211, 205,180,155,140, 130,112,108,104, 103,103,103,112, 119,124,128,133, 135,140,144,148, 151,155,160,162, 162,164,166,169, 171,175,180,184, 187,191,194,198, 202,205,209,211, 211,209,207,209, 211],
    [238,245,227,216, 198,176,151,130, 115,104,101,99, 97,101,106,112, 114,117,119,123, 126,129,131,133, 135,137,139,140, 142,146,149,153, 198,200,202,204, 207,209,212,225, 238,244,248,252, 252,252,252,252, 252],
]
DIR_15 = [
    [310,313,313,314, 314,None,36,42, 47,47,50,52, 56,60,67,72, 76,76,76,77, 79,83,88,89, 90,91,89,80, 72,64,55,35, 16,8,3,351, 349,348,350,351, 356,357,358,357, 353,355,358,358, 360],
    [312,313,314,314, 315,315,315,315, 315,315,315,315, 315,315,315,315, None,216,184,176, 166,162,157,150, 144,146,148,155, 165,180,191,283, 299,309,313,319, 319,319,319,318, 318,317,317,316, 315,315,314,312, 309],
    [299,302,303,304, 305,305,305,305, 304,304,303,303, 302,302,302,297, 292,288,284,279, 270,263,204,187, 176,173,180,191, 203,223,245,279, 297,301,302,304, 306,307,308,308, 308,308,308,308, 308,308,308,308, 307],
    [297,299,300,301, 301,301,301,301, 301,301,301,300, 300,299,299,298, 297,296,294,294, 285,276,230,204, 187,176,171,191, 212,234,259,281, 295,297,299,299, 300,300,300,301, 301,300,300,300, 299,299,298,298, 297],
    [2,2,2,2, 2,2,2,2, 2,2,None,212, 212,None,294,288, 284,283,281,281, 270,256,162,158, 151,148,158,162, 238,259,277,277, None,212,2,2, 2,2,2,2, 2,2,2,2, 2,2,2,2, 2],
]

PANEL_SPEED = [SPEED_01, SPEED_02, SPEED_03, SPEED_04, SPEED_05, SPEED_06, SPEED_07, SPEED_08,
               SPEED_09, SPEED_10, SPEED_11, SPEED_12, SPEED_13, SPEED_14, SPEED_15]
PANEL_DIR = [DIR_01, DIR_02, DIR_03, DIR_04, DIR_05, DIR_06, DIR_07, DIR_08,
             DIR_09, DIR_10, DIR_11, DIR_12, DIR_13, DIR_14, DIR_15]
PANEL_LABELS = [str(n) for n in range(1, 16)]

for name, block in [("speed", PANEL_SPEED), ("dir", PANEL_DIR)]:
    want = len(HOURS_SPEED) if name == "speed" else len(HOURS_DIR)
    for p, rows in enumerate(block, start=1):
        for k, row in enumerate(rows, start=1):
            if len(row) != want:
                raise ValueError(f"{name} panel {p} layer {k}: {len(row)} values, expected {want}")

# ---- page geometry (pixels) ----
FIG_W, FIG_H = 1199, 1674
COL_LEFT = [101, 347.7, 594.4, 841]
ROW_TOP = [20, 412, 804, 1196]
PANEL_W, PANEL_H = 225, 367
X_RANGE = [-6, 6.33]


def fx(px):
    return px / FIG_W


def fy(px):
    return 1 - px / FIG_H


def panel_cell(n):
    if n <= 3:
        return 0, n - 1
    i = n - 4
    return 1 + i // 4, i % 4


def axis_name(prefix, n):
    return prefix if n == 1 else f"{prefix}{n}"


def axis_ref(prefix, n):
    return prefix if n == 1 else f"{prefix}{n}"


fig = go.Figure()
layout = {}
annotations = []

frame = dict(showline=True, mirror=True, linecolor="black", linewidth=1.8, zeroline=False)
tickfont = dict(family=FONT, size=18, color="black")

for n in range(1, 16):
    r, c = panel_cell(n)
    left, top = COL_LEFT[c], ROW_TOP[r]
    xref, yref, y2ref = axis_ref("x", n), axis_ref("y", n), f"y{15 + n}"

    layout[axis_name("xaxis", n)] = dict(
        domain=[fx(left), fx(left + PANEL_W)], anchor=yref, range=X_RANGE,
        tickvals=HOUR_TICKS, ticks="", showgrid=True, gridcolor="black", gridwidth=1.3,
        showticklabels=(r == 3), tickfont=tickfont, ticklabelstandoff=22, **frame)
    layout[axis_name("yaxis", n)] = dict(
        domain=[fy(top + PANEL_H), fy(top)], anchor=xref, range=[0, 1],
        tickvals=SPEED_TICKS, ticktext=SPEED_TICK_TEXT, ticks="", showgrid=True,
        gridcolor="black", gridwidth=1.3, showticklabels=(c == 0), tickfont=tickfont,
        ticklabelstandoff=14, **frame)
    layout[f"yaxis{15 + n}"] = dict(
        overlaying=yref, anchor=xref, side="right", range=[0, 360], tickvals=DIR_TICKS,
        ticks="inside", ticklen=19, tickwidth=1.5, tickcolor="black", showgrid=False,
        showline=False, zeroline=False, showticklabels=(c == 3), tickfont=tickfont,
        ticklabelstandoff=14)

    speeds = PANEL_SPEED[n - 1]
    dirs = PANEL_DIR[n - 1]

    # speed curves: thin layers first, heavy black layer last
    for k in [4, 2, 1, 3, 0]:
        fig.add_trace(go.Scatter(
            x=HOURS_SPEED, y=speeds[k], mode="lines", xaxis=xref, yaxis=yref,
            line=dict(color=LINE_COLORS[k], width=LINE_WIDTHS[k]),
            name=LAYER_NAMES[k], legendrank=10 + k, showlegend=(n == 1),
            hoverinfo="skip"))
    # direction dots
    for k in [4, 3, 2, 1, 0]:
        fig.add_trace(go.Scatter(
            x=HOURS_DIR, y=dirs[k], mode="markers", xaxis=xref, yaxis=y2ref,
            marker=dict(color=DOT_COLORS[k], size=5.5), showlegend=False,
            hoverinfo="skip"))

    annotations.append(dict(
        x=2.9, y=0.87, xref=xref, yref=yref, text=PANEL_LABELS[n - 1], showarrow=False,
        font=dict(family=FONT, size=18, color="black")))

# legend frame (empty panel, top right)
layout["xaxis16"] = dict(domain=[fx(COL_LEFT[3]), fx(COL_LEFT[3] + PANEL_W)], anchor="y31",
                         range=[0, 1], showgrid=False, showticklabels=False, ticks="", **frame)
layout["yaxis31"] = dict(domain=[fy(ROW_TOP[0] + PANEL_H), fy(ROW_TOP[0])], anchor="x16",
                         range=[0, 1], showgrid=False, showticklabels=False, ticks="", **frame)
fig.add_trace(go.Scatter(x=[None], y=[None], xaxis="x16", yaxis="y31", mode="lines",
                         line=dict(color="black", width=1.2), name="Model Speed", legendrank=1))
fig.add_trace(go.Scatter(x=[None], y=[None], xaxis="x16", yaxis="y31", mode="markers",
                         marker=dict(color="black", size=5), name="Model Direction", legendrank=2))

# axis titles
title_font = dict(family=FONT, size=23.5, color="black")
for r in range(4):
    annotations.append(dict(x=fx(25), y=fy(ROW_TOP[r] + 150), xref="paper", yref="paper",
                            text="Speed, m/s", textangle=-90, showarrow=False, font=title_font,
                            xanchor="center", yanchor="middle"))
for r in range(1, 4):
    annotations.append(dict(x=fx(1177), y=fy(ROW_TOP[r] + 118), xref="paper", yref="paper",
                            text="Direction, degrees", textangle=-90, showarrow=False,
                            font=title_font, xanchor="center", yanchor="middle"))
for c in range(4):
    annotations.append(dict(x=fx(COL_LEFT[c] - 4), y=fy(1655), xref="paper", yref="paper",
                            text="Hours after high water", showarrow=False, font=title_font,
                            xanchor="left", yanchor="middle"))

fig.update_layout(
    width=FIG_W, height=FIG_H, margin=dict(l=0, r=0, t=0, b=0),
    paper_bgcolor="white", plot_bgcolor="white", hovermode=False,
    font=dict(family=FONT, color="black"),
    annotations=annotations,
    legend=dict(x=fx(843), y=fy(52), xanchor="left", yanchor="top", bgcolor="rgba(0,0,0,0)",
                borderwidth=0, itemwidth=40, tracegroupgap=0,
                font=dict(family=FONT, size=20, color="black")),
    **layout,
)

fig.write_html("out.html")
